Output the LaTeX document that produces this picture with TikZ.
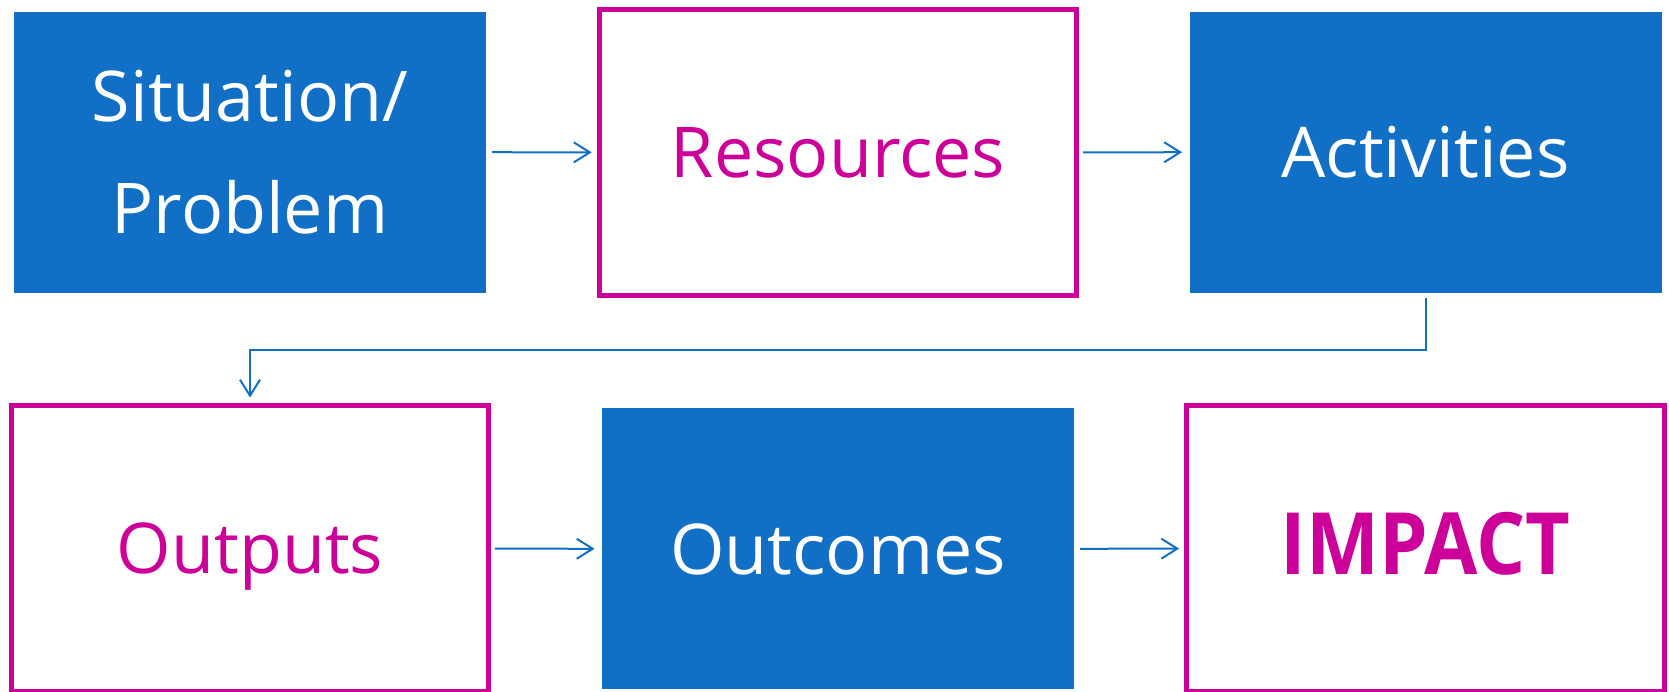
\documentclass[tikz,border=0pt]{standalone}
\usepackage{fontspec}
\setmainfont{Open Sans}
\newfontfamily\impactfont{Open Sans}[FakeStretch=0.9]
\usepackage{xcolor}
\usepackage{tikz}
\usetikzlibrary{arrows.meta}
\definecolor{boxblue}{RGB}{17,112,197}
\definecolor{boxpink}{RGB}{204,0,153}

\begin{document}
\begin{tikzpicture}[x = .5pt, y = -.5pt,
  bluebox/.style = {fill = boxblue, text = white, minimum width = 236pt, minimum height = 140.5pt, inner sep = 0, outer sep = 0, align = center, text depth = 0pt, font = \fontsize{35}{56}\selectfont},
  pinkbox/.style = {draw = boxpink, line width = 2.5pt, text = boxpink, minimum width = 238.9pt, minimum height = 143pt, inner sep = 0, outer sep = 0, align = center, text depth = 0pt, font = \fontsize{35}{56}\selectfont},
  link/.style = {draw = boxblue, line width = 1pt, -{Straight Barb[length = 8pt, width = 10pt]}, shorten <= 3pt, shorten >= 3.7pt}]
 \useasboundingbox (0, 0) rectangle (1669, 691);
  % top row
  \node [bluebox] (sit) at (250, 152.2) {Situation/\\Problem};
  \node [pinkbox] (res) at (838, 152.4) {Resources};
  \node [bluebox] (act) at (1425.5, 152.2) {Activities};
  % bottom row
  \node [pinkbox] (outp) at (250, 548.6) {Outputs};
  \node [bluebox] (outc) at (838, 548.8) {Outcomes};
  \node [pinkbox, font = {\impactfont\bfseries\fontsize{43}{43}\selectfont}, text height = 26pt] (imp) at (1425.5, 548.6) {IMPACT};
  % links
  \draw [link] (sit.east) -- (res.west);
  \draw [link] (res.east) -- (act.west);
  \draw [link, shorten <= 2.7pt, shorten >= 4pt] (act.south) -- ++(0, 57.5) -| (outp.north);
  \draw [link] (outp.east) -- (outc.west);
  \draw [link] (outc.east) -- (imp.west);
 \end{tikzpicture}
\end{document}
